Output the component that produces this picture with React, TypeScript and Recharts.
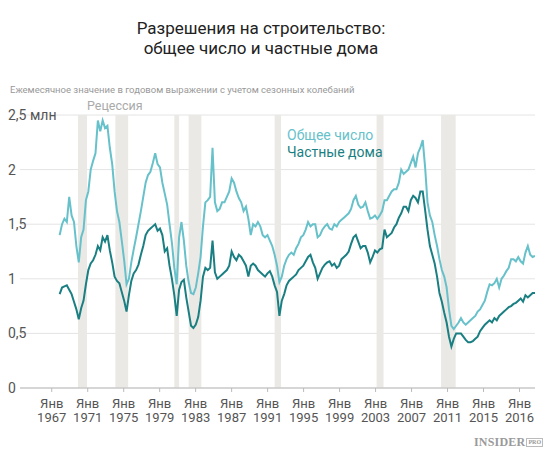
import {
  ComposedChart,
  Line,
  XAxis,
  YAxis,
  CartesianGrid,
  ReferenceArea,
} from 'recharts';

// quarterly points, first one is Q1 1968
const START_YEAR = 1968;

// общее число разрешений, млн (в годовом выражении)
const TOTAL = [
  1.40, 1.50, 1.55, 1.52, 1.75, 1.58, 1.52, 1.30, 1.15, 1.38, 1.45, 1.72,
  1.80, 2.00, 2.08, 2.15, 2.45, 2.35, 2.45, 2.38, 2.40, 2.20, 2.05, 1.80,
  1.62, 1.52, 1.35, 1.17, 0.95, 1.00, 1.15, 1.27, 1.38, 1.50, 1.62, 1.75,
  1.88, 1.95, 1.98, 2.06, 2.15, 2.05, 2.02, 1.88, 1.78, 1.68, 1.50, 1.33,
  1.10, 0.95, 1.38, 1.52, 1.35, 1.12, 0.97, 0.87, 0.86, 0.92, 1.05, 1.20,
  1.48, 1.70, 1.72, 1.75, 2.20, 1.70, 1.62, 1.64, 1.70, 1.70, 1.75, 1.80,
  1.92, 1.88, 1.80, 1.74, 1.70, 1.62, 1.66, 1.55, 1.40, 1.50, 1.48, 1.52,
  1.48, 1.40, 1.38, 1.40, 1.35, 1.30, 1.22, 1.12, 0.97, 1.02, 1.12, 1.18,
  1.22, 1.24, 1.22, 1.28, 1.32, 1.38, 1.40, 1.45, 1.52, 1.48, 1.50, 1.50,
  1.38, 1.40, 1.45, 1.48, 1.50, 1.46, 1.45, 1.50, 1.48, 1.52, 1.54, 1.56,
  1.58, 1.60, 1.64, 1.72, 1.76, 1.68, 1.65, 1.66, 1.70, 1.62, 1.55, 1.56,
  1.58, 1.55, 1.58, 1.62, 1.72, 1.72, 1.76, 1.80, 1.82, 1.82, 1.88, 2.00,
  1.96, 1.98, 2.00, 2.06, 2.12, 2.02, 2.15, 2.20, 2.27, 2.02, 1.70, 1.58,
  1.52, 1.40, 1.30, 1.18, 1.08, 1.02, 0.92, 0.72, 0.57, 0.54, 0.57, 0.60,
  0.64, 0.60, 0.58, 0.60, 0.62, 0.64, 0.66, 0.70, 0.72, 0.76, 0.80, 0.88,
  0.95, 0.94, 0.96, 1.00, 0.92, 1.00, 1.03, 1.07, 1.10, 1.18, 1.18, 1.16,
  1.20, 1.16, 1.14, 1.24, 1.30, 1.22, 1.20, 1.21,
];

// частные дома, млн
const PRIVATE = [
  0.86, 0.92, 0.93, 0.94, 0.90, 0.86, 0.79, 0.72, 0.63, 0.73, 0.80, 0.95,
  1.08, 1.14, 1.17, 1.22, 1.30, 1.26, 1.38, 1.34, 1.40, 1.26, 1.15, 1.02,
  0.98, 0.96, 0.88, 0.80, 0.70, 0.85, 0.98, 1.05, 1.08, 1.13, 1.22, 1.30,
  1.40, 1.44, 1.46, 1.48, 1.50, 1.44, 1.46, 1.40, 1.25, 1.28, 1.12, 1.00,
  0.85, 0.66, 0.90, 0.97, 0.99, 0.83, 0.70, 0.57, 0.55, 0.58, 0.65, 0.80,
  1.02, 1.10, 1.08, 1.10, 1.35, 1.06, 1.00, 1.02, 1.04, 1.06, 1.08, 1.12,
  1.25, 1.20, 1.17, 1.22, 1.20, 1.16, 1.12, 1.02, 1.12, 1.14, 1.12, 1.08,
  1.06, 1.04, 1.02, 1.05, 1.07, 1.02, 0.94, 0.88, 0.66, 0.80, 0.86, 0.94,
  0.98, 1.00, 1.02, 1.04, 1.08, 1.10, 1.12, 1.16, 1.20, 1.22, 1.15, 1.10,
  1.00, 1.05, 1.10, 1.13, 1.15, 1.16, 1.12, 1.14, 1.10, 1.12, 1.18, 1.20,
  1.22, 1.25, 1.32, 1.38, 1.40, 1.34, 1.28, 1.30, 1.30, 1.24, 1.15, 1.20,
  1.26, 1.24, 1.27, 1.28, 1.45, 1.38, 1.40, 1.42, 1.47, 1.50, 1.56, 1.60,
  1.66, 1.66, 1.62, 1.72, 1.76, 1.74, 1.70, 1.80, 1.80, 1.63, 1.45, 1.30,
  1.22, 1.14, 1.02, 0.87, 0.79, 0.69, 0.60, 0.47, 0.38, 0.45, 0.50, 0.50,
  0.50, 0.47, 0.44, 0.42, 0.42, 0.43, 0.45, 0.47, 0.52, 0.55, 0.58, 0.60,
  0.62, 0.60, 0.64, 0.62, 0.66, 0.68, 0.70, 0.72, 0.74, 0.75, 0.77, 0.78,
  0.80, 0.82, 0.79, 0.85, 0.83, 0.85, 0.87, 0.87,
];

// рецессии: начало и конец (дробный год)
const RECESSION_START = [1969.92, 1973.83, 1980.0, 1981.5, 1990.5, 2001.17, 2007.92];
const RECESSION_END = [1970.86, 1975.17, 1980.5, 1982.83, 1991.17, 2001.9, 2009.45];

const TICK_LABELS = [
  '1967', '1971', '1975', '1979', '1983', '1987', '1991',
  '1995', '1999', '2003', '2007', '2011', '2015', '2016',
];
const FIRST_TICK = 1967.17;
const TICK_STEP = 3.766;

const Y_TICKS = [0, 0.5, 1, 1.5, 2, 2.5];

const LIGHT = '#67c1ca';
const DARK = '#1a7f82';
const FONT = 'Roboto, "Noto Sans", sans-serif';

const chartData = TOTAL.map((total, i) => ({
  year: START_YEAR + i * 0.25,
  total,
  private: PRIVATE[i],
}));

const xTicks = TICK_LABELS.map((_, i) => FIRST_TICK + i * TICK_STEP);

function XTick({ x, y, index }: any) {
  return (
    <text x={x} y={y} textAnchor="middle" fill="#555" fontSize={13} fontFamily={FONT}>
      <tspan x={x} dy={14}>Янв</tspan>
      <tspan x={x} dy={13.5}>{TICK_LABELS[index]}</tspan>
    </text>
  );
}

function YTick({ y, payload }: any) {
  const v = payload.value as number;
  const label = v === 2.5 ? '2,5 млн' : String(v).replace('.', ',');
  return (
    <text x={8} y={y} dy={5} textAnchor="start" fill="#555" fontSize={14} fontFamily={FONT}>
      {label}
    </text>
  );
}

export default function App() {
  return (
    <div
      style={{
        position: 'absolute',
        left: 0,
        top: 0,
        width: 550,
        height: 458,
        background: '#fff',
        fontFamily: FONT,
      }}
    >
      <ComposedChart
        width={550}
        height={458}
        data={chartData}
        margin={{ top: 115, right: 15, left: 8, bottom: 40 }}
      >
        <CartesianGrid vertical={false} stroke="#e4e4e4" />
        {RECESSION_START.map((s, i) => (
          <ReferenceArea
            key={s}
            x1={s}
            x2={RECESSION_END[i]}
            fill="#ebe9e5"
            fillOpacity={1}
            stroke="none"
          />
        ))}
        <XAxis
          dataKey="year"
          type="number"
          domain={[1963.85, 2017.75]}
          allowDataOverflow
          ticks={xTicks}
          interval={0}
          tick={<XTick />}
          tickSize={4}
          tickLine={{ stroke: '#bbb' }}
          axisLine={{ stroke: '#bbb' }}
          height={30}
        />
        <YAxis
          domain={[0, 2.5]}
          ticks={Y_TICKS}
          tick={<YTick />}
          axisLine={false}
          tickLine={false}
          width={12}
        />
        <Line
          type="linear"
          dataKey="total"
          stroke={LIGHT}
          strokeWidth={2}
          dot={false}
          isAnimationActive={false}
        />
        <Line
          type="linear"
          dataKey="private"
          stroke={DARK}
          strokeWidth={2}
          dot={false}
          isAnimationActive={false}
        />
      </ComposedChart>

      <div
        style={{
          position: 'absolute',
          left: 0,
          top: 18,
          width: 522,
          textAlign: 'center',
          fontSize: 17,
          lineHeight: '20px',
          color: '#222',
        }}
      >
        Разрешения на строительство:
        <br />
        общее число и частные дома
      </div>
      <div style={{ position: 'absolute', left: 10, top: 84, fontSize: 9.5, color: '#999', whiteSpace: 'nowrap' }}>
        Ежемесячное значение в годовом выражении с учетом сезонных колебаний
      </div>
      <div style={{ position: 'absolute', left: 87, top: 98, fontSize: 12.5, color: '#aaa' }}>
        Рецессия
      </div>
      <div style={{ position: 'absolute', left: 287, top: 127, fontSize: 14, lineHeight: '17px' }}>
        <div style={{ color: LIGHT }}>Общее число</div>
        <div style={{ color: DARK }}>Частные дома</div>
      </div>
      <div
        style={{
          position: 'absolute',
          left: 474,
          top: 435,
          display: 'flex',
          alignItems: 'center',
          color: '#9a9a9a',
          fontFamily: '"Liberation Serif", "DejaVu Serif", serif',
          fontWeight: 'bold',
        }}
      >
        <span style={{ fontSize: 12, letterSpacing: 0.2 }}>INSIDER</span>
        <span
          style={{
            fontSize: 6,
            marginLeft: 1,
            padding: '0 1px',
            border: '1px solid #bbb',
            lineHeight: '7px',
          }}
        >
          PRO
        </span>
      </div>
    </div>
  );
}
